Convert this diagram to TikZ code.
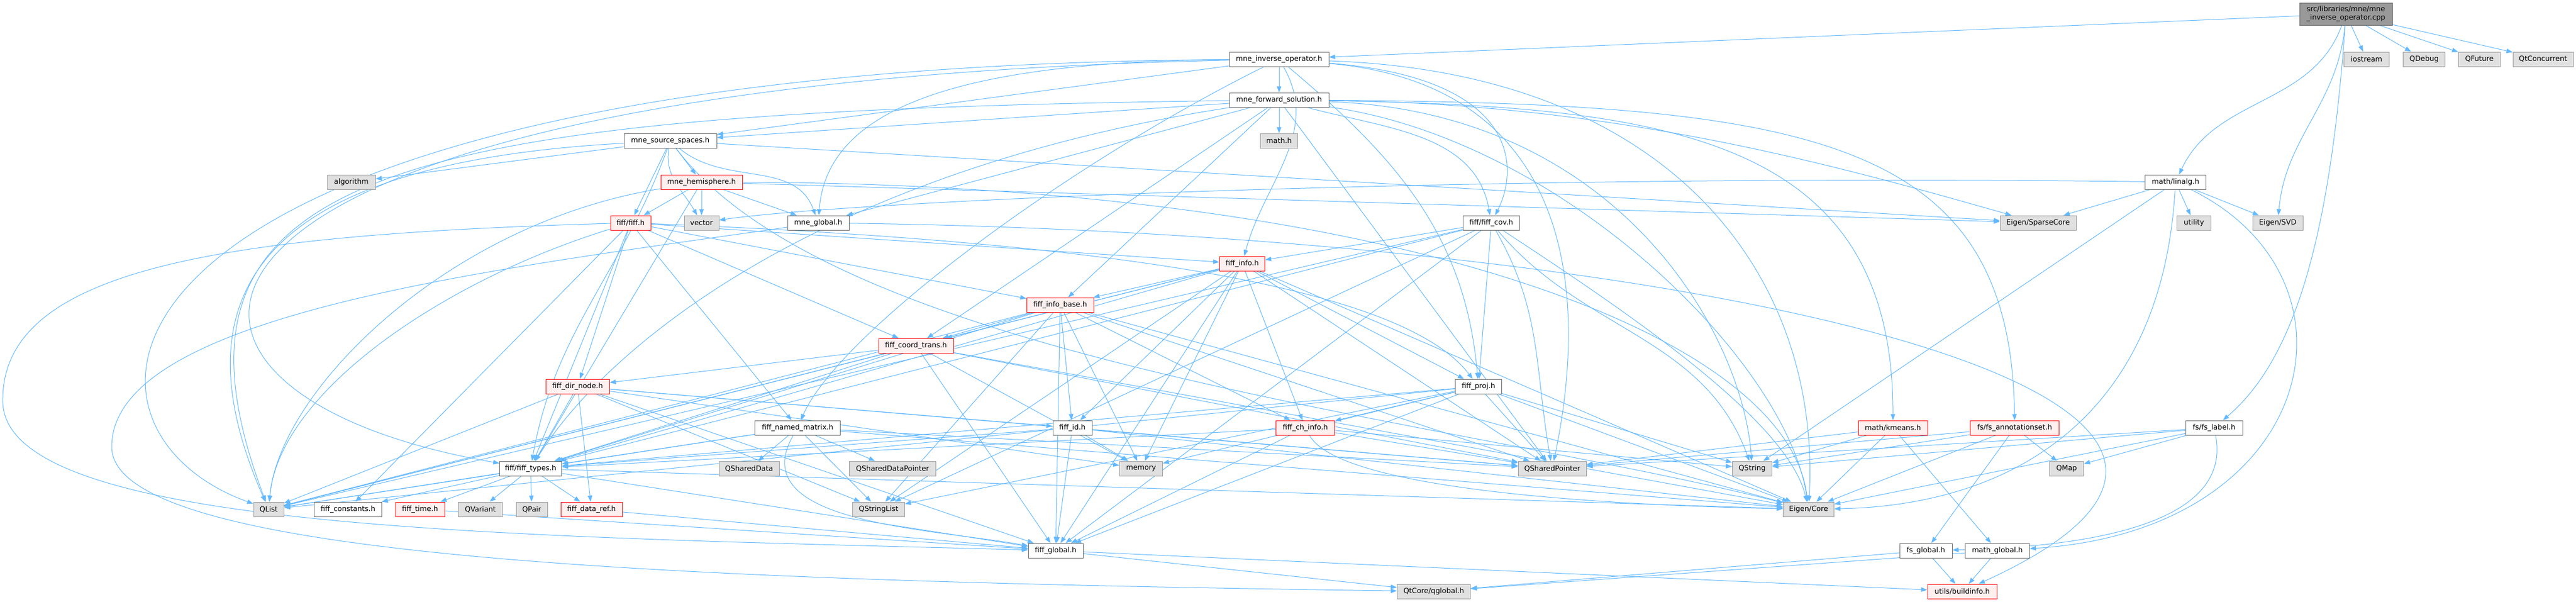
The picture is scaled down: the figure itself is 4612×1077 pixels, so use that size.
\documentclass[tikz,border=0pt]{standalone}
\usepackage{fontspec}
\newfontfamily\dfont{DejaVu Sans}
\usetikzlibrary{arrows.meta}
\definecolor{edgec}{HTML}{63B8FF}
\definecolor{bd}{HTML}{666666}
\definecolor{gfill}{HTML}{E0E0E0}
\definecolor{gbd}{HTML}{999999}
\definecolor{rfill}{HTML}{FFF0F0}
\definecolor{rootfill}{HTML}{999999}
\pgfdeclarelayer{bg}
\pgfsetlayers{bg,main}
\tikzset{
  nd/.style={draw=bd, fill=white, line width=1pt, minimum height=26pt, inner sep=0pt,
    font={\dfont\fontsize{12.8}{15}\selectfont}},
  trunc/.style={nd, draw=red, fill=rfill},
  ext/.style={nd, draw=gbd, fill=gfill},
  rootnd/.style={nd, fill=rootfill, minimum height=40pt, align=center},
  e/.style={draw=edgec, line width=1pt, -{Triangle[length=11pt,width=8pt]}}
}
\begin{document}
\begin{tikzpicture}[x=1pt,y=-1pt]
\useasboundingbox (0,0) rectangle (4612,1077);
% row 0-1
\node[rootnd, minimum width=166pt] (R) at (4200,25) {src/libraries/mne/mne\\\_inverse\_operator.cpp};
\node[ext, minimum width=81pt] (iostream) at (4237,106) {iostream};
\node[ext, minimum width=75pt] (QDebug) at (4340,106) {QDebug};
\node[ext, minimum width=75pt] (QFuture) at (4439,106) {QFuture};
\node[ext, minimum width=108pt] (QtConcurrent) at (4553,106) {QtConcurrent};
\node[nd, minimum width=178pt] (inv) at (2290,106) {mne\_inverse\_operator.h};
\node[nd, minimum width=178pt] (fwd) at (2290,179) {mne\_forward\_solution.h};
\node[ext, minimum width=67pt] (mathh) at (2290,252) {math.h};
\node[nd, minimum width=166pt] (srcsp) at (1200,252) {mne\_source\_spaces.h};
\node[ext, minimum width=86pt] (algorithm) at (629,326) {algorithm};
\node[trunc, minimum width=146pt] (hemi) at (1256,326) {mne\_hemisphere.h};
\node[nd, minimum width=109pt] (linalg) at (3895,326) {math/linalg.h};
\node[trunc, minimum width=72pt] (fiffh) at (1129,399) {fiff/fiff.h};
\node[ext, minimum width=62pt] (vector) at (1256,399) {vector};
\node[nd, minimum width=110pt] (mneglobal) at (1465,399) {mne\_global.h};
\node[nd, minimum width=101pt] (fiffcov) at (2670,399) {fiff/fiff\_cov.h};
\node[ext, minimum width=136pt] (SparseCore) at (3649,399) {Eigen/SparseCore};
\node[ext, minimum width=61pt] (utility) at (3928,399) {utility};
\node[ext, minimum width=90pt] (SVD) at (4078,399) {Eigen/SVD};
\node[trunc, minimum width=81pt] (fiffinfo) at (2224,472) {fiff\_info.h};
\node[trunc, minimum width=120pt] (fiffinfobase) at (1898,546) {fiff\_info\_base.h};
\node[trunc, minimum width=134pt] (coordtrans) at (1640,619) {fiff\_coord\_trans.h};
\node[trunc, minimum width=114pt] (dirnode) at (1034,692) {fiff\_dir\_node.h};
\node[nd, minimum width=83pt] (fiffproj) at (2647,692) {fiff\_proj.h};
\node[nd, minimum width=153pt] (namedmatrix) at (1428,766) {fiff\_named\_matrix.h};
\node[nd, minimum width=70pt] (fiffid) at (1920,766) {fiff\_id.h};
\node[trunc, minimum width=105pt] (chinfo) at (2337,766) {fiff\_ch\_info.h};
\node[trunc, minimum width=124pt] (kmeans) at (3389,766) {math/kmeans.h};
\node[trunc, minimum width=159pt] (fsannot) at (3607,766) {fs/fs\_annotationset.h};
\node[nd, minimum width=102pt] (fslabel) at (3964,766) {fs/fs\_label.h};
\node[nd, minimum width=111pt] (fifftypes) at (950,839) {fiff/fiff\_types.h};
\node[ext, minimum width=108pt] (QSharedData) at (1341,839) {QSharedData};
\node[ext, minimum width=155pt] (QSharedDataPointer) at (1598,839) {QSharedDataPointer};
\node[ext, minimum width=77pt] (memory) at (2043,839) {memory};
\node[ext, minimum width=122pt] (QSharedPointer) at (2779,839) {QSharedPointer};
\node[ext, minimum width=71pt] (QString) at (3137,839) {QString};
\node[ext, minimum width=61pt] (QMap) at (3700,839) {QMap};
\node[ext, minimum width=54pt] (QList) at (481,912) {QList};
\node[nd, minimum width=121pt] (fiffconstants) at (623,912) {fiff\_constants.h};
\node[trunc, minimum width=88pt] (fifftime) at (752,912) {fiff\_time.h};
\node[ext, minimum width=79pt] (QVariant) at (860,912) {QVariant};
\node[ext, minimum width=56pt] (QPair) at (952,912) {QPair};
\node[trunc, minimum width=110pt] (dataref) at (1059,912) {fiff\_data\_ref.h};
\node[ext, minimum width=93pt] (QStringList) at (1573,912) {QStringList};
\node[ext, minimum width=91pt] (EigenCore) at (3238,912) {Eigen/Core};
\node[nd, minimum width=98pt] (fiffglobal) at (1890,986) {fiff\_global.h};
\node[nd, minimum width=94pt] (fsglobal) at (3448,986) {fs\_global.h};
\node[nd, minimum width=115pt] (mathglobal) at (3576,986) {math\_global.h};
\node[ext, minimum width=131pt] (qglobal) at (2567,1059) {QtCore/qglobal.h};
\node[trunc, minimum width=124pt] (buildinfo) at (3513,1059) {utils/buildinfo.h};

\begin{pgfonlayer}{bg}
% root
\draw[e] (R) -- (inv);
\draw[e] (R) -- (iostream);
\draw[e] (R) -- (QDebug);
\draw[e] (R) -- (QFuture);
\draw[e] (R) -- (QtConcurrent);
\draw[e] (R) to[out=-110,in=65] (linalg);
\draw[e] (R) to[out=-95,in=85] (SVD);
\draw[e] (R) .. controls (4170,450) and (4100,650) .. (fslabel);
% inverse operator
\draw[e] (inv) -- (fwd);
\draw[e] (inv) -- (srcsp);
\draw[e] (inv) .. controls (1700,110) and (1480,200) .. (mneglobal);
\draw[e] (inv) to[out=-60,in=75] (fiffinfo);
\draw[e] (inv) .. controls (2720,140) and (2720,300) .. (fiffcov);
\draw[e] (inv) .. controls (1900,300) and (1500,600) .. (namedmatrix);
\draw[e] (inv) to[out=-40,in=95] (fiffproj);
\draw[e] (inv) .. controls (200,150) and (140,700) .. (fifftypes);
\draw[e] (inv) .. controls (120,120) and (60,760) .. (QList);
\draw[e] (inv) .. controls (3000,130) and (3260,500) .. (EigenCore);
\draw[e] (inv) .. controls (2800,150) and (2850,500) .. (QSharedPointer);
% forward solution
\draw[e] (fwd) -- (mathh);
\draw[e] (fwd) -- (srcsp);
\draw[e] (fwd) -- (mneglobal);
\draw[e] (fwd) .. controls (3000,190) and (3390,250) .. (kmeans);
\draw[e] (fwd) .. controls (3250,185) and (3600,250) .. (fsannot);
\draw[e] (fwd) to[out=-15,in=100] (fiffcov);
\draw[e] (fwd) -- (fiffinfobase);
\draw[e] (fwd) -- (coordtrans);
\draw[e] (fwd) .. controls (1500,300) and (1100,600) .. (fifftypes);
\draw[e] (fwd) .. controls (700,200) and (250,300) .. (QList);
\draw[e] (fwd) -- (QSharedPointer);
\draw[e] (fwd) .. controls (2900,200) and (3120,600) .. (QString);
\draw[e] (fwd) .. controls (2800,250) and (3200,650) .. (EigenCore);
\draw[e] (fwd) .. controls (2900,185) and (3300,300) .. (SparseCore);
% source spaces
\draw[e] (srcsp) -- (hemi);
\draw[e] (srcsp) to[out=-40,in=110] (mneglobal);
\draw[e] (srcsp) -- (fiffh);
\draw[e] (srcsp) to[out=-100,in=120] (vector);
\draw[e] (srcsp) -- (algorithm);
\draw[e] (srcsp) to[out=-110,in=80] (fifftypes);
\draw[e] (srcsp) .. controls (500,290) and (300,500) .. (QList);
\draw[e] (srcsp) .. controls (1500,650) and (2600,750) .. (EigenCore);
\draw[e] (srcsp) -- (SparseCore);
% hemisphere
\draw[e] (hemi) -- (fiffh);
\draw[e] (hemi) -- (vector);
\draw[e] (hemi) -- (mneglobal);
\draw[e] (hemi) -- (fifftypes);
\draw[e] (hemi) .. controls (800,400) and (500,700) .. (QList);
\draw[e] (hemi) .. controls (2500,330) and (3200,600) .. (EigenCore);
\draw[e] (hemi) -- (SparseCore);
% mne global
\draw[e] (mneglobal) .. controls (900,480) and (200,560) .. (200,800) .. controls (200,1000) and (1200,1040) .. (qglobal);
\draw[e] (mneglobal) .. controls (3000,420) and (4300,700) .. (buildinfo);
% linalg
\draw[e] (linalg) -- (SparseCore);
\draw[e] (linalg) -- (utility);
\draw[e] (linalg) -- (SVD);
\draw[e] (linalg) .. controls (4250,500) and (4150,950) .. (mathglobal);
\draw[e] (linalg) .. controls (3870,750) and (3600,905) .. (EigenCore);
\draw[e] (linalg) .. controls (2600,310) and (1500,362) .. (vector);
\draw[e] (linalg) -- (QString);
% fiff.h
\draw[e] (fiffh) .. controls (400,420) and (0,480) .. (5,720) .. controls (10,950) and (900,960) .. (fiffglobal);
\draw[e] (fiffh) -- (fiffconstants);
\draw[e] (fiffh) -- (coordtrans);
\draw[e] (fiffh) -- (dirnode);
\draw[e] (fiffh) -- (fiffinfo);
\draw[e] (fiffh) -- (fiffinfobase);
\draw[e] (fiffh) -- (namedmatrix);
\draw[e] (fiffh) .. controls (1900,430) and (2500,500) .. (fiffproj);
\draw[e] (fiffh) -- (fifftypes);
\draw[e] (fiffh) .. controls (800,500) and (500,700) .. (QList);
% fiff cov
\draw[e] (fiffcov) -- (fiffinfo);
\draw[e] (fiffcov) -- (fiffproj);
\draw[e] (fiffcov) -- (fiffglobal);
\draw[e] (fiffcov) -- (fifftypes);
\draw[e] (fiffcov) to[out=-60,in=100] (QSharedPointer);
\draw[e] (fiffcov) to[out=-50,in=110] (QString);
\draw[e] (fiffcov) -- (QStringList);
\draw[e] (fiffcov) .. controls (2900,550) and (3200,750) .. (EigenCore);
\draw[e] (fiffcov) -- (QList);
% fiff info
\draw[e] (fiffinfo) -- (fiffinfobase);
\draw[e] (fiffinfo) -- (fiffglobal);
\draw[e] (fiffinfo) -- (fifftypes);
\draw[e] (fiffinfo) -- (coordtrans);
\draw[e] (fiffinfo) -- (chinfo);
\draw[e] (fiffinfo) -- (fiffproj);
\draw[e] (fiffinfo) -- (fiffid);
\draw[e] (fiffinfo) -- (QList);
\draw[e] (fiffinfo) -- (QSharedPointer);
\draw[e] (fiffinfo) -- (QStringList);
\draw[e] (fiffinfo) -- (EigenCore);
\draw[e] (fiffinfo) -- (memory);
% fiff info base
\draw[e] (fiffinfobase) -- (fiffglobal);
\draw[e] (fiffinfobase) -- (fifftypes);
\draw[e] (fiffinfobase) -- (coordtrans);
\draw[e] (fiffinfobase) -- (chinfo);
\draw[e] (fiffinfobase) -- (fiffid);
\draw[e] (fiffinfobase) -- (QSharedPointer);
\draw[e] (fiffinfobase) -- (QStringList);
\draw[e] (fiffinfobase) -- (EigenCore);
\draw[e] (fiffinfobase) -- (memory);
\draw[e] (fiffinfobase) -- (QList);
% coord trans
\draw[e] (coordtrans) -- (fiffglobal);
\draw[e] (coordtrans) -- (fifftypes);
\draw[e] (coordtrans) -- (dirnode);
\draw[e] (coordtrans) -- (QSharedPointer);
\draw[e] (coordtrans) -- (EigenCore);
\draw[e] (coordtrans) -- (memory);
\draw[e] (coordtrans) -- (QList);
% dir node
\draw[e] (dirnode) -- (fifftypes);
\draw[e] (dirnode) -- (fiffid);
\draw[e] (dirnode) -- (dataref);
\draw[e] (dirnode) -- (fiffglobal);
\draw[e] (dirnode) -- (QList);
\draw[e] (dirnode) -- (QSharedPointer);
\draw[e] (dirnode) -- (memory);
\draw[e] (dirnode) -- (QStringList);
% named matrix
\draw[e] (namedmatrix) -- (fifftypes);
\draw[e] (namedmatrix) to[out=-120,in=170] (fiffglobal);
\draw[e] (namedmatrix) -- (QSharedData);
\draw[e] (namedmatrix) -- (QSharedDataPointer);
\draw[e] (namedmatrix) -- (QStringList);
\draw[e] (namedmatrix) -- (QSharedPointer);
\draw[e] (namedmatrix) -- (EigenCore);
\draw[e] (namedmatrix) -- (QList);
% fiff id
\draw[e] (fiffid) -- (fiffglobal);
\draw[e] (fiffid) -- (fifftypes);
\draw[e] (fiffid) -- (memory);
\draw[e] (fiffid) -- (QSharedPointer);
\draw[e] (fiffid) -- (EigenCore);
% fiff proj
\draw[e] (fiffproj) -- (fiffglobal);
\draw[e] (fiffproj) -- (fifftypes);
\draw[e] (fiffproj) -- (chinfo);
\draw[e] (fiffproj) -- (QList);
\draw[e] (fiffproj) -- (QStringList);
\draw[e] (fiffproj) -- (QSharedPointer);
\draw[e] (fiffproj) -- (QString);
\draw[e] (fiffproj) -- (EigenCore);
\draw[e] (fiffproj) -- (memory);
% ch info
\draw[e] (chinfo) -- (fifftypes);
\draw[e] (chinfo) -- (fiffglobal);
\draw[e] (chinfo) -- (QSharedPointer);
\draw[e] (chinfo) -- (QString);
\draw[e] (chinfo) .. controls (2400,880) and (2900,905) .. (EigenCore);
% fiff types
\draw[e] (fifftypes) -- (fiffglobal);
\draw[e] (fifftypes) -- (fiffconstants);
\draw[e] (fifftypes) -- (fifftime);
\draw[e] (fifftypes) -- (QVariant);
\draw[e] (fifftypes) -- (QPair);
\draw[e] (fifftypes) -- (QList);
\draw[e] (fifftypes) -- (dataref);
\draw[e] (fifftypes) -- (EigenCore);
\draw[e] (fifftime) -- (fiffglobal);
\draw[e] (dataref) -- (fiffglobal);
% globals
\draw[e] (fiffglobal) -- (qglobal);
\draw[e] (fiffglobal) -- (buildinfo);
\draw[e] (fsglobal) -- (qglobal);
\draw[e] (fsglobal) -- (buildinfo);
\draw[e] (mathglobal) -- (qglobal);
\draw[e] (mathglobal) -- (buildinfo);
% math / fs
\draw[e] (kmeans) -- (mathglobal);
\draw[e] (kmeans) -- (EigenCore);
\draw[e] (kmeans) -- (QSharedPointer);
\draw[e] (kmeans) -- (QString);
\draw[e] (fsannot) -- (fsglobal);
\draw[e] (fsannot) -- (QMap);
\draw[e] (fsannot) -- (EigenCore);
\draw[e] (fsannot) -- (QSharedPointer);
\draw[e] (fsannot) -- (QString);
\draw[e] (fslabel) .. controls (4000,950) and (3700,980) .. (fsglobal);
\draw[e] (fslabel) -- (QMap);
\draw[e] (fslabel) -- (EigenCore);
\draw[e] (fslabel) -- (QSharedPointer);
\draw[e] (fslabel) -- (QString);
\end{pgfonlayer}
\end{tikzpicture}
\end{document}
